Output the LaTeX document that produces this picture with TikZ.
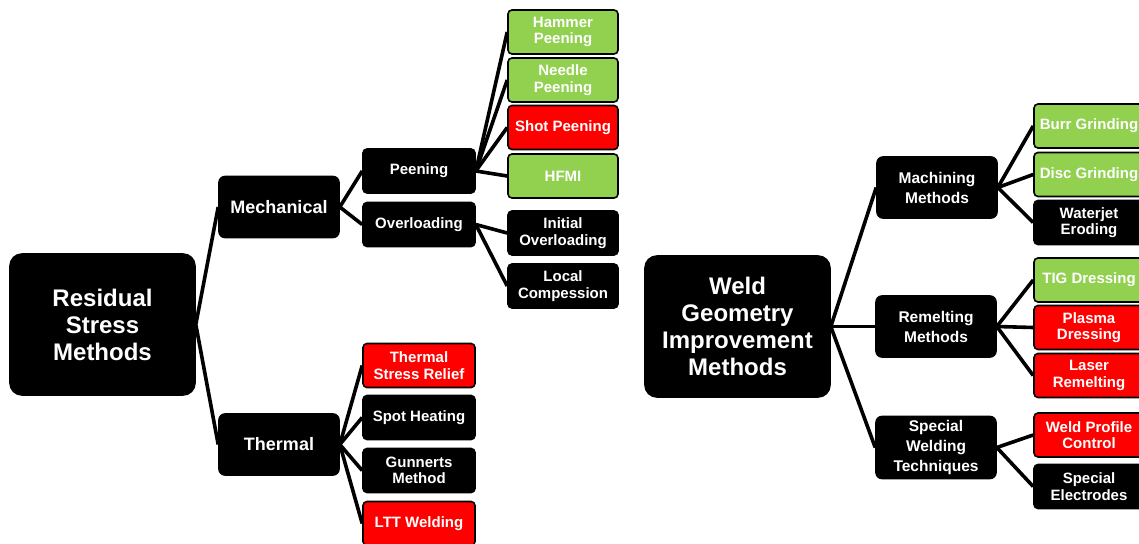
\documentclass[tikz,border=0pt]{standalone}
\usepackage{fontspec}
\setmainfont{Liberation Sans}
\definecolor{leafgreen}{RGB}{146,208,80}
\definecolor{leafred}{RGB}{255,0,0}
\tikzset{
  box/.style={draw=black, line width=1.6pt, rounded corners=4pt, fill=black, text=white,
    align=center, inner sep=1pt, font=\bfseries\fontsize{15}{16.5}\selectfont},
  rootbox/.style={box, rounded corners=12pt, minimum width=185pt, minimum height=141pt,
    font=\bfseries\fontsize{24}{27}\selectfont},
  catbox/.style={box, rounded corners=6pt, minimum width=120pt, minimum height=61pt,
    font=\bfseries\fontsize{18}{20}\selectfont},
  weldcat/.style={catbox, font=\bfseries\fontsize{15.5}{20}\selectfont},
  midbox/.style={box, minimum width=112pt, minimum height=44pt},
  leafbox/.style={box, minimum width=110pt, minimum height=44pt},
  good/.style={fill=leafgreen},
  bad/.style={fill=leafred},
  link/.style={line width=3.6pt},
}

\begin{document}
\begin{tikzpicture}[x=1pt,y=-1pt]
  \useasboundingbox (0,0) rectangle (1139,543);
  \clip (0,0) rectangle (1139,543);

  % residual stress side
  \node[rootbox] (rsm) at (102.5,324.5) {Residual\\Stress\\Methods};
  \node[catbox] (mech) at (279,207) {Mechanical};
  \node[catbox] (therm) at (279,444.5) {Thermal};

  \node[midbox] (peen) at (419,171) {Peening};
  \node[midbox] (overl) at (419,224.5) {Overloading};

  \node[leafbox, good] (hammer) at (563,32) {Hammer\\Peening};
  \node[leafbox, good] (needle) at (563,80) {Needle\\Peening};
  \node[leafbox, bad] (shot) at (563,127.5) {Shot Peening};
  \node[leafbox, good] (hfmi) at (563,176) {HFMI};
  \node[leafbox] (initov) at (563,233) {Initial\\Overloading};
  \node[leafbox] (localc) at (563,286) {Local\\Compession};

  \node[midbox, bad] (tsr) at (419,365.5) {Thermal\\Stress Relief};
  \node[midbox] (spot) at (419,417.5) {Spot Heating};
  \node[midbox] (gunn) at (419,470.5) {Gunnerts\\Method};
  \node[midbox, bad] (ltt) at (419,523.5) {LTT Welding};

  \draw[link] (rsm.east) -- (mech.west) (rsm.east) -- (therm.west);
  \draw[link] (mech.east) -- (peen.west) (mech.east) -- (overl.west);
  \foreach \n in {hammer,needle,shot,hfmi}
    \draw[link] (peen.east) -- (\n.west);
  \foreach \n in {initov,localc}
    \draw[link] (overl.east) -- (\n.west);
  \foreach \n in {tsr,spot,gunn,ltt}
    \draw[link] (therm.east) -- (\n.west);

  % weld geometry side
  \node[rootbox] (wgim) at (737.5,326.5) {Weld\\Geometry\\Improvement\\Methods};
  \node[weldcat] (mach) at (937,187.5) {Machining\\Methods};
  \node[weldcat] (remelt) at (936,326.5) {Remelting\\Methods};
  \node[weldcat, minimum height=62pt] (spec) at (936,447.5) {Special\\Welding\\Techniques};

  \node[leafbox, good] (burr) at (1089,126) {Burr Grinding};
  \node[leafbox, good] (disc) at (1089,174.5) {Disc Grinding};
  \node[leafbox] (water) at (1089,222.5) {Waterjet\\Eroding};
  \node[leafbox, good] (tig) at (1089,280) {TIG Dressing};
  \node[leafbox, bad] (plasma) at (1089,327.5) {Plasma\\Dressing};
  \node[leafbox, bad] (laser) at (1089,375.5) {Laser\\Remelting};
  \node[leafbox, bad] (profile) at (1089,435) {Weld Profile\\Control};
  \node[leafbox] (electr) at (1089,486.5) {Special\\Electrodes};

  \foreach \n in {mach,remelt,spec}
    \draw[link] (wgim.east) -- (\n.west);
  \foreach \n in {burr,disc,water}
    \draw[link] (mach.east) -- (\n.west);
  \foreach \n in {tig,plasma,laser}
    \draw[link] (remelt.east) -- (\n.west);
  \foreach \n in {profile,electr}
    \draw[link] (spec.east) -- (\n.west);
\end{tikzpicture}
\end{document}
